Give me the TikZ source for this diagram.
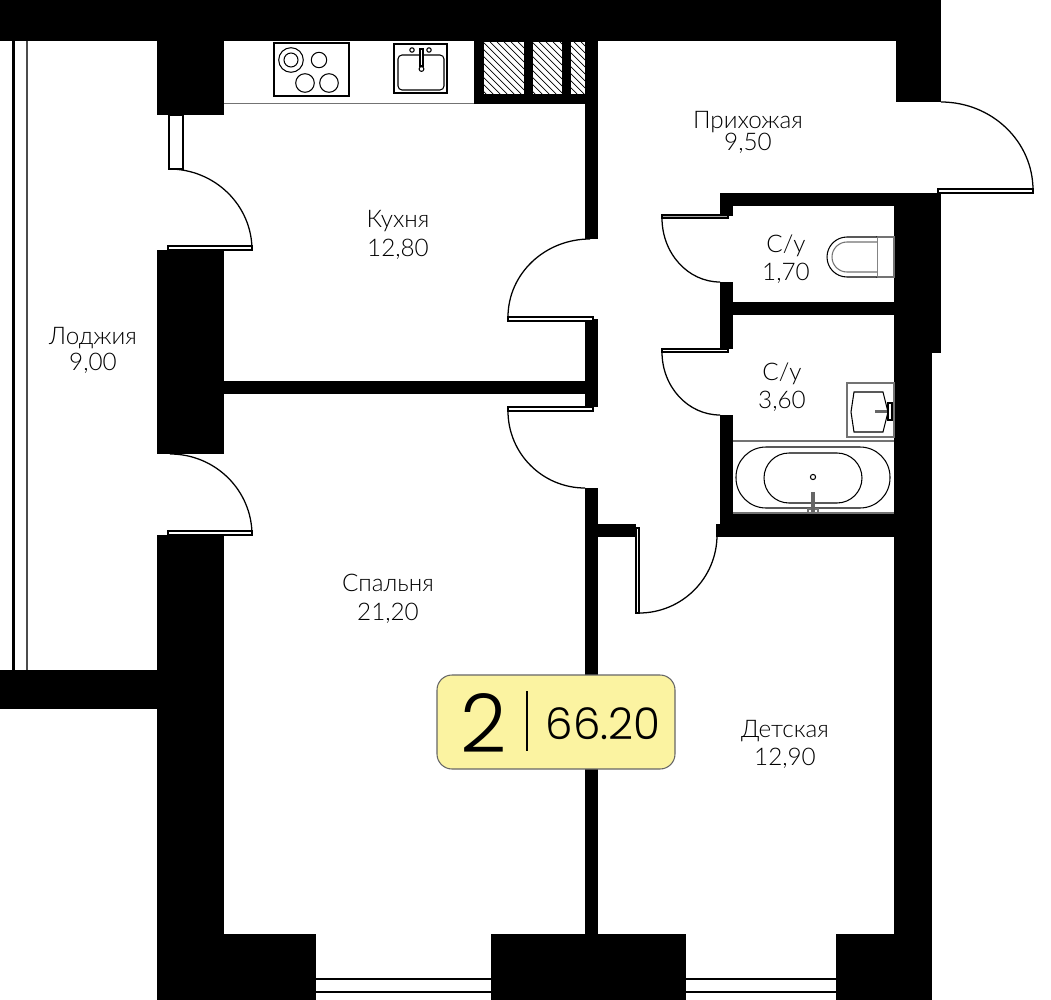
\documentclass[tikz,border=0pt]{standalone}
\usepackage{fontspec}
\setmainfont[UprightFont=* Light]{Lato}
\newfontfamily\badgefont[UprightFont=* Light]{Poppins}
\usetikzlibrary{positioning}
\definecolor{badgeyellow}{HTML}{FBF3A1}
\tikzstyle{wall} = [fill=black]
\tikzstyle{swing} = [draw=black,line width=0.36pt]
\tikzstyle{leaf} = [draw=black,fill=white,line width=0.36pt]
\tikzstyle{fixture} = [draw=black!55,line width=0.3pt]
\tikzstyle{thin} = [draw=black,line width=0.3pt]
\tikzstyle{hatch} = [draw=black,line width=0.2pt]
\tikzstyle{roomlabel} = [anchor=base,inner sep=0pt,font=\fontsize{6.9}{8}\selectfont]

\begin{document}
\begin{tikzpicture}[x=0.01cm,y=-0.01cm]
    \useasboundingbox (0,0) rectangle (1051,1000);

    % outer walls
    \fill[wall] (0,0) rectangle (941,41);
    \fill[wall] (157,41) rectangle (224,115);
    \fill[wall] (157,250) rectangle (224,454);
    \fill[wall] (157,535) rectangle (224,1000);
    \fill[wall] (0,670) rectangle (157,709);
    \fill[wall] (896,41) rectangle (941,102);
    \fill[wall] (894,193) rectangle (941,353);
    \fill[wall] (894,353) rectangle (932,1000);
    \fill[wall] (224,934) rectangle (316,1000);
    \fill[wall] (491,934) rectangle (686,1000);
    \fill[wall] (836,934) rectangle (894,1000);

    % inner walls
    \fill[wall] (224,381) rectangle (585,394);
    \fill[wall] (585,41) rectangle (598,239);
    \fill[wall] (585,319) rectangle (598,407);
    \fill[wall] (585,488) rectangle (598,934);
    \fill[wall] (598,524) rectangle (636,537);
    \fill[wall] (720,193) rectangle (894,206);
    \fill[wall] (720,206) rectangle (733,216);
    \fill[wall] (720,282) rectangle (733,349);
    \fill[wall] (733,302) rectangle (894,315);
    \fill[wall] (720,415) rectangle (733,537);
    \fill[wall] (733,513) rectangle (894,537);
    \fill[wall] (716,524) rectangle (720,537);

    % windows
    \fill[wall] (12,41) rectangle (15,670);
    \fill[black!70] (26,41) rectangle (28,670);
    \fill[wall] (316,978) rectangle (491,980);
    \fill[wall] (316,991) rectangle (491,993);
    \fill[wall] (686,978) rectangle (836,980);
    \fill[wall] (686,991) rectangle (836,993);

    % kitchen furniture
    \draw[fixture] (224,103.5) -- (474,103.5);
    \fill[wall] (474,41) rectangle (585,104);
    \fill[white] (484,42) rectangle (524,94);
    \fill[white] (533,42) rectangle (562,94);
    \fill[white] (571,42) rectangle (585,94);
    \begin{scope}
      \clip (484,42) rectangle (524,94) (533,42) rectangle (562,94) (571,42) rectangle (585,94);
      \foreach \s in {420,427,...,590}
        \draw[hatch] (\s,42) -- ++(52,52);
    \end{scope}
    \draw[thin] (274,43) rectangle (349,96);
    \draw[thin] (291,60) circle (12.3);
    \draw[thin] (291,60) circle (7);
    \draw[thin] (319,60) circle (7.7);
    \draw[thin] (305,83) circle (9.3);
    \draw[thin] (329,83) circle (9.3);
    \draw[thin] (394,44) rectangle (447,93);
    \draw[thin,rounded corners=0.04cm] (398,55) rectangle (444,90);
    \draw[thin,fill=white] (420,49) rectangle (423,66);
    \draw[thin] (421.5,69) circle (2.4);
    \draw[thin] (412,50) circle (2.2);
    \draw[thin] (429,50) circle (2.2);

    % bathroom furniture
    \draw[fixture] (877,237) rectangle (894,277);
    \draw[thin,fill=white] (877,237) -- (847,237) arc[start angle=270,end angle=90,radius=20] -- (877,277);
    \draw[fixture] (877,242) -- (847,242) arc[start angle=270,end angle=90,radius=15] -- (877,272);
    \draw[fixture] (847,383) rectangle (894,437);
    \draw[thin] (854,392) -- (883,392) -- (888,412) -- (883,432) -- (854,432) -- (851,412) -- cycle;
    \fill[black!60] (875,410) rectangle (890,413);
    \draw[thin,fill=white] (888,403) rectangle (892,420);
    \draw[fixture] (733,441) -- (894,441);
    \draw[fixture] (733,513) -- (894,513);
    \draw[thin,rounded corners=0.3cm] (736,447) rectangle (890,508);
    \draw[thin,rounded corners=0.25cm] (764,453) rectangle (862,503);
    \draw[thin] (813,477) circle (2.6);
    \draw[fixture,fill=white] (808,509) rectangle (818,513);
    \fill[black!60] (811,492) rectangle (815,512);

    % doors
    \draw[leaf] (169,115) rectangle (183,169);
    \draw[swing] (169,169) arc[start angle=-90,end angle=0,x radius=83,y radius=81];
    \draw[leaf] (168,246) rectangle (252,250);
    \draw[swing] (170,454) arc[start angle=-90,end angle=0,x radius=82,y radius=81];
    \draw[leaf] (168,531) rectangle (252,535);
    \draw[swing] (590,239) arc[start angle=-90,end angle=-180,x radius=82,y radius=78];
    \draw[leaf] (508,317) rectangle (593,321);
    \draw[swing] (508,411) arc[start angle=180,end angle=90,x radius=77,y radius=77];
    \draw[leaf] (508,407) rectangle (593,411);
    \draw[swing] (717,535) arc[start angle=0,end angle=90,x radius=78,y radius=78];
    \draw[leaf] (636,528) rectangle (639,613);
    \draw[swing] (662,218) arc[start angle=180,end angle=90,x radius=58,y radius=64];
    \draw[leaf,fill=black!35] (662,215) rectangle (728,218);
    \draw[swing] (662,352) arc[start angle=180,end angle=90,x radius=58,y radius=63];
    \draw[leaf] (662,349) rectangle (728,352);
    \draw[swing] (941,102) arc[start angle=-90,end angle=0,x radius=92,y radius=88];
    \draw[leaf] (938,189) rectangle (1033,193);

    % room labels
    \node[roomlabel] (kitchen) at (398,227) {Кухня};
    \node[roomlabel] (kitchenarea) at (398,256) {12,80};
    \node[roomlabel] (hall) at (748,128) {Прихожая};
    \node[roomlabel] (hallarea) at (748,150) {9,50};
    \node[roomlabel] (wc) at (786,252) {С/у};
    \node[roomlabel] (wcarea) at (786,280) {1,70};
    \node[roomlabel] (bath) at (782,380) {С/у};
    \node[roomlabel] (batharea) at (782,408) {3,60};
    \node[roomlabel] (loggia) at (93,344) {Лоджия};
    \node[roomlabel] (loggiaarea) at (93,370) {9,00};
    \node[roomlabel] (bedroom) at (388,591) {Спальня};
    \node[roomlabel] (bedroomarea) at (388,620) {21,20};
    \node[roomlabel] (nursery) at (785,737) {Детская};
    \node[roomlabel] (nurseryarea) at (785,765) {12,90};

    % flat badge
    \draw[draw=black!60,fill=badgeyellow,line width=0.3pt,rounded corners=0.15cm] (437,675) rectangle (675,769);
    \draw[black,line width=0.3pt] (527,691) -- (527,751);
    \node[inner sep=0pt,font=\badgefont\fontsize{23}{23}\selectfont] (rooms) at (484,723) {2};
    \node[inner sep=0pt,font=\badgefont\fontsize{12.4}{14}\selectfont] (area) at (603,724) {66.20};
\end{tikzpicture}
\end{document}
